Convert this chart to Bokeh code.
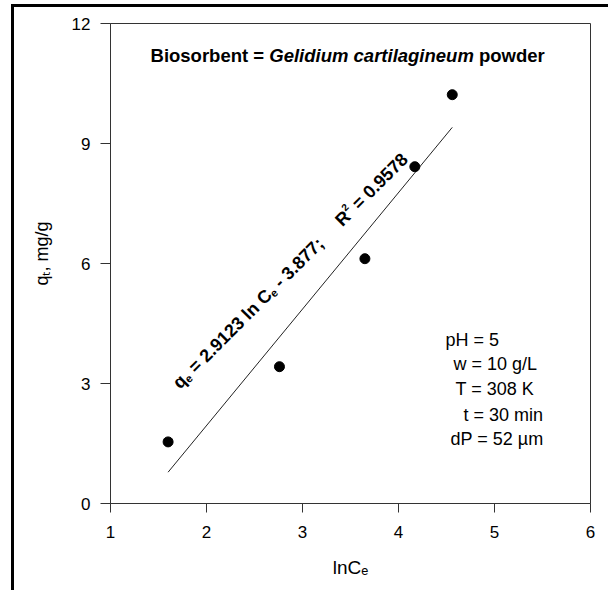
import math
from bokeh.plotting import figure
from bokeh.models import Label, Range1d, FixedTicker
from bokeh.embed import file_html
from bokeh.resources import INLINE

# Measured uptake vs. log equilibrium concentration
ln_ce = [1.60, 2.76, 3.65, 4.17, 4.56]
q_t = [1.54, 3.42, 6.12, 8.42, 10.22]

# Temkin fit: q = a ln Ce + b
fit_a = 2.9123
fit_b = -3.877
fit_r2 = 0.9578

x_ticks = [1, 2, 3, 4, 5, 6]
y_ticks = [0, 3, 6, 9, 12]

conditions = ["pH = 5", "w = 10 g/L", "T = 308 K", "t = 30 min", "dP = 52 \u00b5m"]
cond_x = [4.49, 4.573, 4.594, 4.677, 4.542]
cond_y = [4.09, 3.49, 2.87, 2.22, 1.62]

FONT = "Liberation Sans"

# Arial-compatible advance widths (1/1000 em) used to chain text pieces
W_REG = {' ': 278, '.': 278, '=': 584, '-': 333, ';': 278, ',': 278, '/': 278,
         'a': 556, 'b': 556, 'c': 500, 'd': 556, 'e': 556, 'g': 556, 'h': 556,
         'i': 222, 'l': 222, 'm': 833, 'n': 556, 'o': 556, 'p': 556, 'q': 556,
         'r': 333, 's': 500, 't': 278, 'u': 556, 'w': 722, 'C': 722, 'H': 722,
         'I': 278, 'K': 667, 'L': 556, 'P': 667, 'R': 722, 'T': 611, '\u00b5': 576}
W_BOLD = {' ': 278, '.': 278, '=': 584, '-': 333, ';': 333, 'B': 722, 'C': 722,
          'G': 778, 'R': 722, 'a': 556, 'b': 611, 'c': 556, 'd': 611, 'e': 556,
          'g': 611, 'i': 278, 'l': 278, 'm': 889, 'n': 611, 'o': 611, 'p': 611,
          'q': 611, 'r': 389, 's': 556, 't': 333, 'u': 611, 'w': 778}


def advance(s, size, bold):
    table = W_BOLD if bold else W_REG
    return sum(556 if ch.isdigit() else table.get(ch, 556) for ch in s) * size / 1000.0


def chain(p, x, y, pieces, angle_deg=0.0):
    """Place text pieces one after another along a (possibly rotated) baseline.
    pieces: (text, size, style, shift) with shift in px perpendicular (up +).
    Leading/trailing blanks are turned into advances since they are collapsed."""
    a = math.radians(angle_deg)
    ux, uy = math.cos(a), math.sin(a)
    nx, ny = -math.sin(a), math.cos(a)
    pos = 0.0
    for text, size, style, shift in pieces:
        bold = "bold" in style
        lead = text[:len(text) - len(text.lstrip(" "))]
        body = text.strip(" ")
        trail = text[len(text.rstrip(" ")):]
        pos += advance(lead, size, bold)
        p.add_layout(Label(
            x=x, y=y, text=body,
            x_offset=pos * ux + shift * nx, y_offset=pos * uy + shift * ny,
            angle=a, text_font=FONT, text_font_size=f"{size}px",
            text_font_style=style, text_color="black",
            text_baseline="alphabetic", text_align="left"))
        pos += advance(body, size, bold) + advance(trail, size, bold)


p = figure(width=608, height=590, output_backend="svg", toolbar_location=None,
           x_range=Range1d(1, 6), y_range=Range1d(0, 12),
           min_border_left=110, min_border_right=18, min_border_top=23,
           min_border_bottom=87)

# outer page frame (left and top rules) painted behind a transparent canvas
p.styles = {
    "background-color": "white",
    "background-image": "linear-gradient(black, black), linear-gradient(black, black)",
    "background-size": "3px 586px, 597px 3px",
    "background-position": "11px 4px, 11px 4px",
    "background-repeat": "no-repeat",
}

p.background_fill_color = "white"
p.border_fill_color = None
p.outline_line_color = "#333333"
p.outline_line_width = 1
p.xgrid.visible = False
p.ygrid.visible = False

for ax in (p.xaxis[0], p.yaxis[0]):
    ax.axis_line_color = "#333333"
    ax.major_tick_line_color = "#333333"
    ax.major_tick_in = 0
    ax.minor_tick_line_color = None
    ax.major_label_text_font = FONT
    ax.major_label_text_font_size = "17px"
    ax.major_label_text_color = "black"
    ax.axis_label_text_font = FONT
    ax.axis_label_text_font_style = "normal"
    ax.axis_label_text_color = "black"

p.xaxis.ticker = FixedTicker(ticks=x_ticks)
p.yaxis.ticker = FixedTicker(ticks=y_ticks)
p.xaxis.major_tick_out = 9
p.yaxis.major_tick_out = 10
p.xaxis.major_label_standoff = 13
p.yaxis.major_label_standoff = 10

p.xaxis.axis_label = "lnC\u2091"
p.xaxis.axis_label_text_font_size = "19px"
p.xaxis.axis_label_standoff = 16
p.yaxis.axis_label = "\u00a0\u00a0\u00a0\u00a0q\u209c, mg/g"
p.yaxis.axis_label_text_font_size = "18px"
p.yaxis.axis_label_standoff = 17

# fitted line over the span of the data
fx = [min(ln_ce), max(ln_ce)]
fy = [fit_a * v + fit_b for v in fx]
p.line(fx, fy, line_color="#222222", line_width=1)

p.scatter(ln_ce, q_t, size=10, color="black")

# title with italic species name
chain(p, 1.417, 11.19, [
    ("Biosorbent = ", 18.5, "bold", 0),
    ("Gelidium cartilagineum", 18.5, "bold italic", 0),
    (" powder", 18.5, "bold", 0),
])

# fit equation written along the line
chain(p, 1.68, 2.95, [
    ("q", 18, "bold", 0),
    ("e", 11, "bold", -4),
    (" = 2.9123 ln C", 18, "bold", 0),
    ("e", 11, "bold", -4),
    (" - 3.877;", 18, "bold", 0),
    ("     R", 18, "bold", 0),
    ("2", 10, "bold", 7),
    (" = %.4f" % fit_r2, 18, "bold", 0),
], angle_deg=45)

# experimental conditions
for txt, cx, cy in zip(conditions, cond_x, cond_y):
    p.add_layout(Label(x=cx, y=cy, text=txt, text_font=FONT, text_font_size="18px",
                       text_color="black", text_baseline="middle", text_align="left"))

open("out.html", "w").write(file_html(p, INLINE))
